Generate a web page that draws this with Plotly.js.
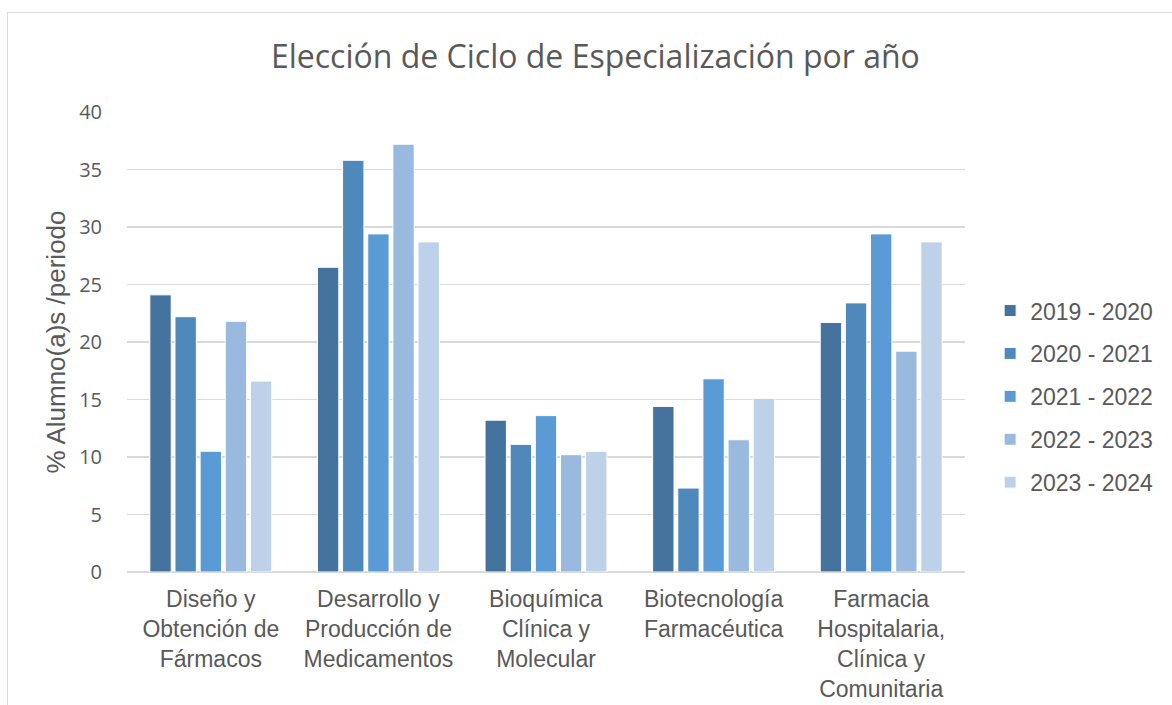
<!DOCTYPE html>
<html>
<head>
<meta charset="utf-8">
<script src="https://cdn.plot.ly/plotly-3.0.1.min.js"></script>
<style>
  html, body { margin: 0; padding: 0; background: #fff; }
  #wrap { position: relative; width: 1172px; height: 705px; overflow: hidden; }
  #chart { width: 1172px; height: 705px; }
  #frame { position: absolute; left: 7px; top: 12px; width: 1200px; height: 760px;
           border: 1px solid #d9d9d9; pointer-events: none; box-sizing: border-box; }
</style>
</head>
<body>
<div id="wrap">
  <div id="chart"></div>
  <div id="frame"></div>
</div>
<script>
const categories = [
  "Diseño y<br>Obtención de<br>Fármacos",
  "Desarrollo y<br>Producción de<br>Medicamentos",
  "Bioquímica<br>Clínica y<br>Molecular",
  "Biotecnología<br>Farmacéutica",
  "Farmacia<br>Hospitalaria,<br>Clínica y<br>Comunitaria"
];
const seriesNames = ["2019 - 2020", "2020 - 2021", "2021 - 2022", "2022 - 2023", "2023 - 2024"];
const v2019 = [24.1, 26.5, 13.2, 14.4, 21.7];
const v2020 = [22.2, 35.8, 11.1, 7.3, 23.4];
const v2021 = [10.5, 29.4, 13.6, 16.8, 29.4];
const v2022 = [21.8, 37.2, 10.2, 11.5, 19.2];
const v2023 = [16.6, 28.7, 10.5, 15.1, 28.7];
const seriesValues = [v2019, v2020, v2021, v2022, v2023];
const colors = ["#44739e", "#4f88bb", "#5b9bd5", "#9ab9df", "#bdd1e9"];

const traces = seriesNames.map((name, i) => ({
  type: "bar",
  name: name,
  x: categories,
  y: seriesValues[i],
  legendgroup: "g" + i,
  marker: { color: colors[i], line: { color: "#ffffff", width: 1 } },
  hoverinfo: "y+name"
}));

const layout = {
  width: 1172,
  height: 705,
  paper_bgcolor: "#ffffff",
  plot_bgcolor: "#ffffff",
  margin: { l: 127, r: 207, t: 112, b: 133, pad: 0 },
  barmode: "group",
  bargap: 0.25,
  bargroupgap: 0.15,
  title: {
    text: "Elección de Ciclo de Especialización por año",
    font: { family: "Open Sans, Noto Sans, sans-serif", size: 32, color: "#595959" },
    x: 0.508, xref: "container", xanchor: "center",
    y: 1 - 57 / 705, yref: "container", yanchor: "middle"
  },
  xaxis: {
    type: "category",
    tickfont: { family: "Liberation Sans, Arial, sans-serif", size: 23, color: "#595959" },
    showline: false,
    showgrid: false,
    ticks: "",
    ticklabelstandoff: 11,
    tickangle: 0
  },
  yaxis: {
    range: [0, 40],
    dtick: 5,
    tick0: 0,
    showgrid: true,
    gridcolor: "#d9d9d9",
    gridwidth: 1.5,
    zeroline: true,
    zerolinecolor: "#d9d9d9",
    zerolinewidth: 1.5,
    showline: false,
    ticks: "",
    ticklabelstandoff: 24,
    tickfont: { family: "Open Sans, Noto Sans, sans-serif", size: 20, color: "#595959" },
    title: {
      text: "% Alumno(a)s /periodo",
      font: { family: "Liberation Sans, Arial, sans-serif", size: 26, color: "#595959" },
      standoff: 6
    }
  },
  legend: {
    x: 1.03, xanchor: "left",
    y: 0.615, yanchor: "top",
    font: { family: "Liberation Sans, Arial, sans-serif", size: 23, color: "#595959" },
    traceorder: "grouped",
    tracegroupgap: 10,
    itemwidth: 30,
    bgcolor: "rgba(0,0,0,0)"
  },
  showlegend: true
};

Plotly.newPlot("chart", traces, layout, { displayModeBar: false, staticPlot: true });
</script>
</body>
</html>
